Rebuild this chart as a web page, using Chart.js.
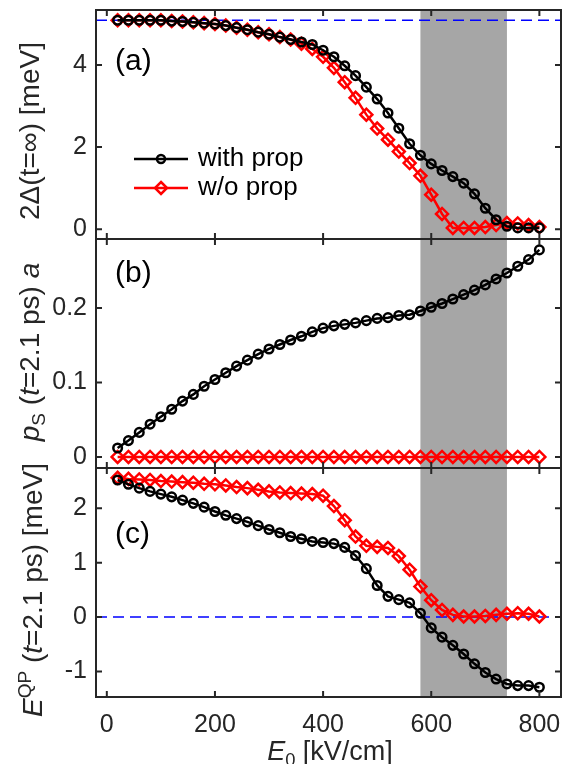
<!DOCTYPE html>
<html>
<head>
<meta charset="utf-8">
<script src="https://cdn.jsdelivr.net/npm/chart.js@4.4.1/dist/chart.umd.min.js"></script>
<style>
  body { margin: 0; background: #fff; }
  #wrap { position: relative; width: 568px; height: 764px; overflow: hidden;
          font-family: "Liberation Sans", Arial, sans-serif; color: #262626; }
  .panel { position: absolute; left: 0; width: 568px; }
  .ylab { position: absolute; white-space: nowrap; font-size: 28px; line-height: 1;
          transform: translate(-50%, -50%) rotate(-90deg); }
  .ylab sub, .ylab sup, .xlab sub { font-size: 0.68em; }
  .tag { position: absolute; font-size: 30px; line-height: 1; color: #000; transform: translateY(-50%); }
  .xlab { position: absolute; white-space: nowrap; font-size: 27px; line-height: 26px;
          transform: translateX(-50%); }
</style>
</head>
<body>
<div id="wrap">
  <div class="panel" style="top:0;height:245px"><canvas id="gapChart"></canvas></div>
  <div class="panel" style="top:233px;height:241px"><canvas id="psChart"></canvas></div>
  <div class="panel" style="top:462px;height:302px"><canvas id="eqpChart"></canvas></div>

  <div class="ylab" style="left:30px;top:131px">2Δ(t=∞) [meV]</div>
  <div class="ylab" style="left:32px;top:352px"><i>p</i><sub>S</sub> (<i>t</i>=2.1 ps) <i>a</i></div>
  <div class="ylab" style="left:31px;top:590px"><i>E</i><sup>QP</sup> (<i>t</i>=2.1 ps) [meV]</div>
  <div class="xlab" style="left:330px;top:738px"><i>E</i><sub>0</sub> [kV/cm]</div>

  <div class="tag" style="left:115px;top:60px">(a)</div>
  <div class="tag" style="left:115px;top:272px">(b)</div>
  <div class="tag" style="left:115px;top:533px">(c)</div>
</div>
<script>
const E0 = [20, 40, 60, 80, 100, 120, 140, 160, 180, 200,
            220, 240, 260, 280, 300, 320, 340, 360, 380, 400,
            420, 440, 460, 480, 500, 520, 540, 560, 580, 600,
            620, 640, 660, 680, 700, 720, 740, 760, 780, 800];

const gapWith = [5.09, 5.09, 5.09, 5.09, 5.09, 5.07, 5.06, 5.04, 5.02, 5.00,
                 4.96, 4.91, 4.86, 4.80, 4.75, 4.68, 4.62, 4.56, 4.50, 4.36,
                 4.20, 3.98, 3.74, 3.46, 3.17, 2.83, 2.46, 2.08, 1.80, 1.59,
                 1.43, 1.28, 1.12, 0.86, 0.51, 0.23, 0.07, 0.03, 0.03, 0.03];
const gapWithout = [5.09, 5.09, 5.09, 5.09, 5.09, 5.07, 5.06, 5.04, 5.02, 5.00,
                    4.96, 4.91, 4.86, 4.80, 4.75, 4.68, 4.62, 4.52, 4.39, 4.20,
                    3.93, 3.58, 3.20, 2.79, 2.45, 2.18, 1.89, 1.61, 1.30, 0.84,
                    0.37, 0.03, 0.03, 0.03, 0.05, 0.10, 0.15, 0.14, 0.10, 0.05];

const psWith = [0.012, 0.022, 0.033, 0.044, 0.054, 0.064, 0.075, 0.084, 0.095, 0.104,
                0.113, 0.122, 0.130, 0.138, 0.145, 0.151, 0.157, 0.162, 0.168, 0.173,
                0.176, 0.178, 0.180, 0.183, 0.186, 0.187, 0.190, 0.191, 0.196, 0.201,
                0.206, 0.212, 0.218, 0.224, 0.231, 0.239, 0.247, 0.256, 0.265, 0.278];
const psWithout = [0, 0, 0, 0, 0, 0, 0, 0, 0, 0,
                   0, 0, 0, 0, 0, 0, 0, 0, 0, 0,
                   0, 0, 0, 0, 0, 0, 0, 0, 0, 0,
                   0, 0, 0, 0, 0, 0, 0, 0, 0, 0];

const eqpWith = [2.52, 2.44, 2.37, 2.31, 2.26, 2.21, 2.15, 2.09, 2.02, 1.94,
                 1.87, 1.81, 1.75, 1.68, 1.61, 1.55, 1.48, 1.44, 1.39, 1.37,
                 1.35, 1.28, 1.13, 0.89, 0.58, 0.38, 0.32, 0.26, 0.07, -0.20,
                 -0.37, -0.52, -0.68, -0.86, -1.02, -1.14, -1.23, -1.26, -1.26, -1.29];
const eqpWithout = [2.56, 2.54, 2.53, 2.52, 2.50, 2.49, 2.48, 2.47, 2.45, 2.44,
                    2.42, 2.39, 2.37, 2.34, 2.31, 2.29, 2.28, 2.27, 2.26, 2.23,
                    2.04, 1.78, 1.48, 1.31, 1.29, 1.27, 1.12, 0.87, 0.56, 0.31,
                    0.13, 0.04, 0.01, 0.01, 0.02, 0.04, 0.06, 0.07, 0.06, 0.01];

const xTicks = [0, 200, 400, 600, 800];
const gapTicks = [0, 2, 4];
const psTicks = [0, 0.1, 0.2];
const eqpTicks = [-1, 0, 1, 2];
const seriesNames = ["with prop", "w/o prop"];
const bandRange = [580, 740];

const AXIS_COLOR = "#262626";
const BAND_COLOR = "#a6a6a6";
const FONT = "'Liberation Sans', Arial, sans-serif";
const TICK_SIZE = 25;
Chart.defaults.font.family = FONT;
Chart.defaults.color = AXIS_COLOR;

const toPoints = (ys) => ys.map((y, i) => ({ x: E0[i], y }));

function withSet(ys) {
  return {
    label: seriesNames[0],
    data: toPoints(ys),
    borderColor: "#000000",
    borderWidth: 2.5,
    pointStyle: "circle",
    pointRadius: 4.3,
    pointBorderWidth: 2.5,
    pointBackgroundColor: "transparent",
    pointBorderColor: "#000000",
    clip: 8,
  };
}

function withoutSet(ys) {
  return {
    label: seriesNames[1],
    data: toPoints(ys),
    borderColor: "#ff0000",
    borderWidth: 2.5,
    pointStyle: "rectRot",
    pointRadius: 6,
    pointBorderWidth: 2.5,
    pointBackgroundColor: "transparent",
    pointBorderColor: "#ff0000",
    clip: 8,
  };
}

function drawDiamond(ctx, x, y, r) {
  ctx.beginPath();
  ctx.moveTo(x, y - r);
  ctx.lineTo(x + r, y);
  ctx.lineTo(x, y + r);
  ctx.lineTo(x - r, y);
  ctx.closePath();
  ctx.stroke();
}

function decorPlugin(yTicks, hline, legend) {
  return {
    id: "decor",
    beforeDatasetsDraw(chart) {
      const { ctx, chartArea: a, scales } = chart;
      ctx.save();
      const x0 = scales.x.getPixelForValue(bandRange[0]);
      const x1 = scales.x.getPixelForValue(bandRange[1]);
      ctx.fillStyle = BAND_COLOR;
      ctx.fillRect(x0, a.top, x1 - x0, a.bottom - a.top);
      if (hline !== null) {
        const y = scales.y.getPixelForValue(hline);
        ctx.strokeStyle = "#0000ff";
        ctx.lineWidth = 1.5;
        ctx.setLineDash([11, 6]);
        ctx.beginPath();
        ctx.moveTo(a.left, y);
        ctx.lineTo(a.right, y);
        ctx.stroke();
      }
      ctx.restore();
    },
    afterDraw(chart) {
      const { ctx, chartArea: a, scales } = chart;
      const tl = 6;
      ctx.save();
      ctx.strokeStyle = AXIS_COLOR;
      ctx.lineWidth = 2;
      ctx.strokeRect(a.left, a.top, a.right - a.left, a.bottom - a.top);
      ctx.beginPath();
      xTicks.forEach((v) => {
        const x = scales.x.getPixelForValue(v);
        ctx.moveTo(x, a.top); ctx.lineTo(x, a.top + tl);
        ctx.moveTo(x, a.bottom); ctx.lineTo(x, a.bottom - tl);
      });
      yTicks.forEach((v) => {
        const y = scales.y.getPixelForValue(v);
        ctx.moveTo(a.left, y); ctx.lineTo(a.left + tl, y);
        ctx.moveTo(a.right, y); ctx.lineTo(a.right - tl, y);
      });
      ctx.stroke();

      if (legend) {
        const rows = [159, 188];
        ctx.lineWidth = 2.5;
        ctx.font = "26px " + FONT;
        ctx.textBaseline = "middle";
        ctx.fillStyle = "#000";
        rows.forEach((y, i) => {
          const col = i === 0 ? "#000000" : "#ff0000";
          ctx.strokeStyle = col;
          ctx.beginPath();
          ctx.moveTo(134, y);
          ctx.lineTo(188, y);
          ctx.stroke();
          if (i === 0) {
            ctx.beginPath();
            ctx.arc(161, y, 4, 0, Math.PI * 2);
            ctx.stroke();
          } else {
            drawDiamond(ctx, 161, y, 6);
          }
          ctx.fillText(seriesNames[i], 198, y);
        });
      }
      ctx.restore();
    },
  };
}

function makePanel(id, sets, yMin, yMax, yTicks, hline, opts) {
  const showX = opts.showX;
  return new Chart(document.getElementById(id), {
    type: "line",
    data: { datasets: sets },
    options: {
      responsive: true,
      maintainAspectRatio: false,
      animation: false,
      events: [],
      layout: { padding: opts.padding, autoPadding: false },
      plugins: { legend: { display: false }, tooltip: { enabled: false } },
      scales: {
        x: {
          type: "linear",
          min: -20,
          max: 840,
          display: showX,
          grid: { display: false, drawTicks: false },
          border: { display: false },
          ticks: {
            font: { size: TICK_SIZE },
            color: AXIS_COLOR,
            padding: 13,
            maxRotation: 0,
            autoSkip: false,
            callback: (v) => String(v),
          },
          afterBuildTicks: (s) => { s.ticks = xTicks.map((v) => ({ value: v })); },
          afterFit: (s) => {
            if (showX) s.height = opts.xHeight;
            s.paddingLeft = 0;
            s.paddingRight = 0;
          },
        },
        y: {
          type: "linear",
          min: yMin,
          max: yMax,
          grid: { display: false, drawTicks: false },
          border: { display: false },
          ticks: {
            font: { size: TICK_SIZE },
            color: AXIS_COLOR,
            padding: 9,
            callback: (v) => String(v),
          },
          afterBuildTicks: (s) => { s.ticks = yTicks.map((v) => ({ value: v })); },
          afterFit: (s) => {
            s.width = 96;
            s.paddingTop = 0;
            s.paddingBottom = 0;
          },
        },
      },
    },
    plugins: [decorPlugin(yTicks, hline, opts.legend)],
  });
}

makePanel("gapChart", [withSet(gapWith), withoutSet(gapWithout)], -0.24, 5.34, gapTicks, 5.09,
  { showX: false, legend: true, padding: { top: 10, right: 7, bottom: 6, left: 0 } });

makePanel("psChart", [withSet(psWith), withoutSet(psWithout)], -0.0148, 0.2926, psTicks, null,
  { showX: false, legend: false, padding: { top: 6, right: 7, bottom: 6, left: 0 } });

makePanel("eqpChart", [withSet(eqpWith), withoutSet(eqpWithout)], -1.47, 2.74, eqpTicks, 0,
  { showX: true, xHeight: 67, legend: false, padding: { top: 6, right: 7, bottom: 0, left: 0 } });
</script>
</body>
</html>
